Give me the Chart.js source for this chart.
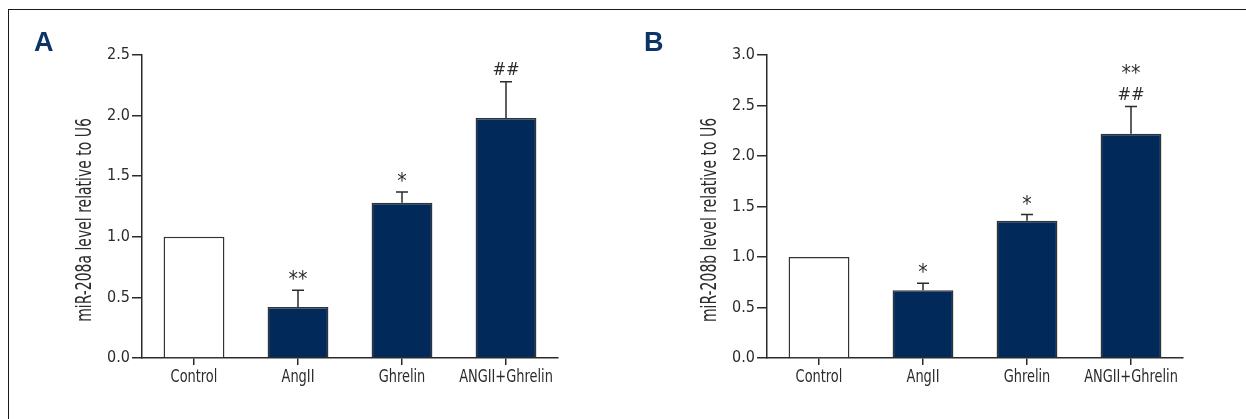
<!DOCTYPE html>
<html>
<head>
<meta charset="utf-8">
<script src="https://cdn.jsdelivr.net/npm/chart.js@4"></script>
<style>
  html, body { margin: 0; padding: 0; background: #fff; }
  #fig { position: relative; width: 1246px; height: 419px; overflow: hidden; background: #fff; }
  #frame { position: absolute; left: 8px; top: 9px; right: 0; bottom: 0;
           border-top: 1px solid #1a1a1a; border-left: 1px solid #1a1a1a; }
  canvas { position: absolute; top: 0; }
  #cA { left: 0; }
  #cB { left: 623px; }
</style>
</head>
<body>
<div id="fig">
  <div id="frame"></div>
  <canvas id="cA" width="623" height="419"></canvas>
  <canvas id="cB" width="623" height="419"></canvas>
</div>
<script>
// Groups shown on both panels
const categories = ['Control', 'AngII', 'Ghrelin', 'ANGII+Ghrelin'];

// Panel A: miR-208a expression (mean and SD)
const miR208a = [1.0, 0.42, 1.28, 1.98];
const miR208aSD = [0, 0.14, 0.09, 0.30];
const miR208aSig = ['', '**', '*', '##'];
const yTicksA = [0.0, 0.5, 1.0, 1.5, 2.0, 2.5];

// Panel B: miR-208b expression (mean and SD)
const miR208b = [1.0, 0.67, 1.36, 2.22];
const miR208bSD = [0, 0.07, 0.06, 0.27];
const miR208bSig = ['', '*', '*', '**\n##'];
const yTicksB = [0.0, 0.5, 1.0, 1.5, 2.0, 2.5, 3.0];

const NAVY = '#012a5b';
const INK = '#2b2b2b';
const FONT = "'Liberation Sans Narrow', 'DejaVu Sans Condensed', 'Arial Narrow', sans-serif";

// Error whiskers, significance marks, category labels, y-axis title and panel letter
const panelDecor = {
  id: 'panelDecor',
  afterDatasetsDraw(chart, args, opts) {
    const ctx = chart.ctx;
    const ys = chart.scales.y;
    const xs = chart.scales.x;
    const ds = chart.data.datasets[0];
    const meta = chart.getDatasetMeta(0);
    const area = chart.chartArea;
    ctx.save();
    meta.data.forEach((bar, i) => {
      const v = ds.data[i];
      const sd = opts.sd[i];
      let top = ys.getPixelForValue(v);
      if (sd) {
        top = ys.getPixelForValue(v + sd);
        ctx.strokeStyle = INK;
        ctx.lineWidth = 1.5;
        ctx.beginPath();
        ctx.moveTo(bar.x, bar.y);
        ctx.lineTo(bar.x, top);
        ctx.moveTo(bar.x - 6, top);
        ctx.lineTo(bar.x + 6, top);
        ctx.stroke();
      }
      const sig = opts.sig[i];
      if (sig) {
        const lines = sig.split('\n').reverse();
        ctx.fillStyle = INK;
        ctx.textAlign = 'center';
        ctx.textBaseline = 'alphabetic';
        lines.forEach((t, k) => {
          const star = t.includes('*');
          ctx.font = (star ? '21px ' : '18px ') + FONT;
          const base = (star ? top - 4 : top - 7) - k * 23;
          ctx.fillText(t, bar.x, base);
        });
      }
    });
    // category labels under the x axis, set in a narrowed face
    ctx.fillStyle = INK;
    ctx.font = '18px ' + FONT;
    ctx.textAlign = 'center';
    ctx.textBaseline = 'middle';
    chart.data.labels.forEach((lab, i) => {
      ctx.save();
      ctx.translate(xs.getPixelForTick(i), area.bottom + 19);
      ctx.scale(0.8, 1);
      ctx.fillText(lab, 0, 0);
      ctx.restore();
    });
    // y-axis title, set in a narrowed face
    ctx.save();
    ctx.translate(area.left - 56, area.bottom - 138);
    ctx.rotate(-Math.PI / 2);
    ctx.scale(0.74, 1);
    ctx.fillStyle = INK;
    ctx.font = '21px ' + FONT;
    ctx.textAlign = 'center';
    ctx.textBaseline = 'middle';
    ctx.fillText(opts.title, 0, 0);
    ctx.restore();
    // panel letter
    ctx.fillStyle = '#0c3467';
    ctx.font = "bold 27px 'Liberation Sans', 'DejaVu Sans', sans-serif";
    ctx.textAlign = 'left';
    ctx.textBaseline = 'alphabetic';
    ctx.fillText(opts.letter, opts.letterX, 51);
    ctx.restore();
  }
};

function makeChart(canvasId, values, sd, sig, ticks, title, letter, letterX, padRight, axisW) {
  const yMax = ticks[ticks.length - 1];
  return new Chart(document.getElementById(canvasId), {
    type: 'bar',
    data: {
      labels: categories,
      datasets: [{
        data: values,
        backgroundColor: values.map((_, i) => i === 0 ? '#ffffff' : NAVY),
        borderColor: '#333333',
        borderWidth: 1.5,
        borderSkipped: 'start',
        barPercentage: 0.585,
        categoryPercentage: 1.0
      }]
    },
    options: {
      responsive: false,
      animation: false,
      events: [],
      layout: { padding: { top: 55, right: padRight, left: 0, bottom: 0 } },
      plugins: {
        legend: { display: false },
        tooltip: { enabled: false },
        panelDecor: { sd: sd, sig: sig, title: title, letter: letter, letterX: letterX }
      },
      scales: {
        x: {
          offset: true,
          afterFit(scale) { scale.height = 61; },
          grid: { display: true, drawOnChartArea: false, offset: false, tickLength: 7, color: INK, lineWidth: 1.5 },
          border: { display: true, color: INK, width: 1.5 },
          ticks: { display: false, autoSkip: false }
        },
        y: {
          min: 0,
          max: yMax,
          afterFit(scale) { scale.width = axisW; },
          afterBuildTicks(scale) { scale.ticks = ticks.map(v => ({ value: v })); },
          grid: { display: true, drawOnChartArea: false, tickLength: 10, color: INK, lineWidth: 1.5 },
          border: { display: true, color: INK, width: 1.5 },
          ticks: { color: INK, font: { family: FONT, size: 16 }, padding: 2,
                   callback: v => Number(v).toFixed(1) }
        }
      }
    },
    plugins: [panelDecor]
  });
}

makeChart('cA', miR208a, miR208aSD, miR208aSig, yTicksA,
          'miR-208a level relative to U6', 'A', 34, 65, 142);
makeChart('cB', miR208b, miR208bSD, miR208bSig, yTicksB,
          'miR-208b level relative to U6', 'B', 21, 63, 144);
</script>
</body>
</html>
